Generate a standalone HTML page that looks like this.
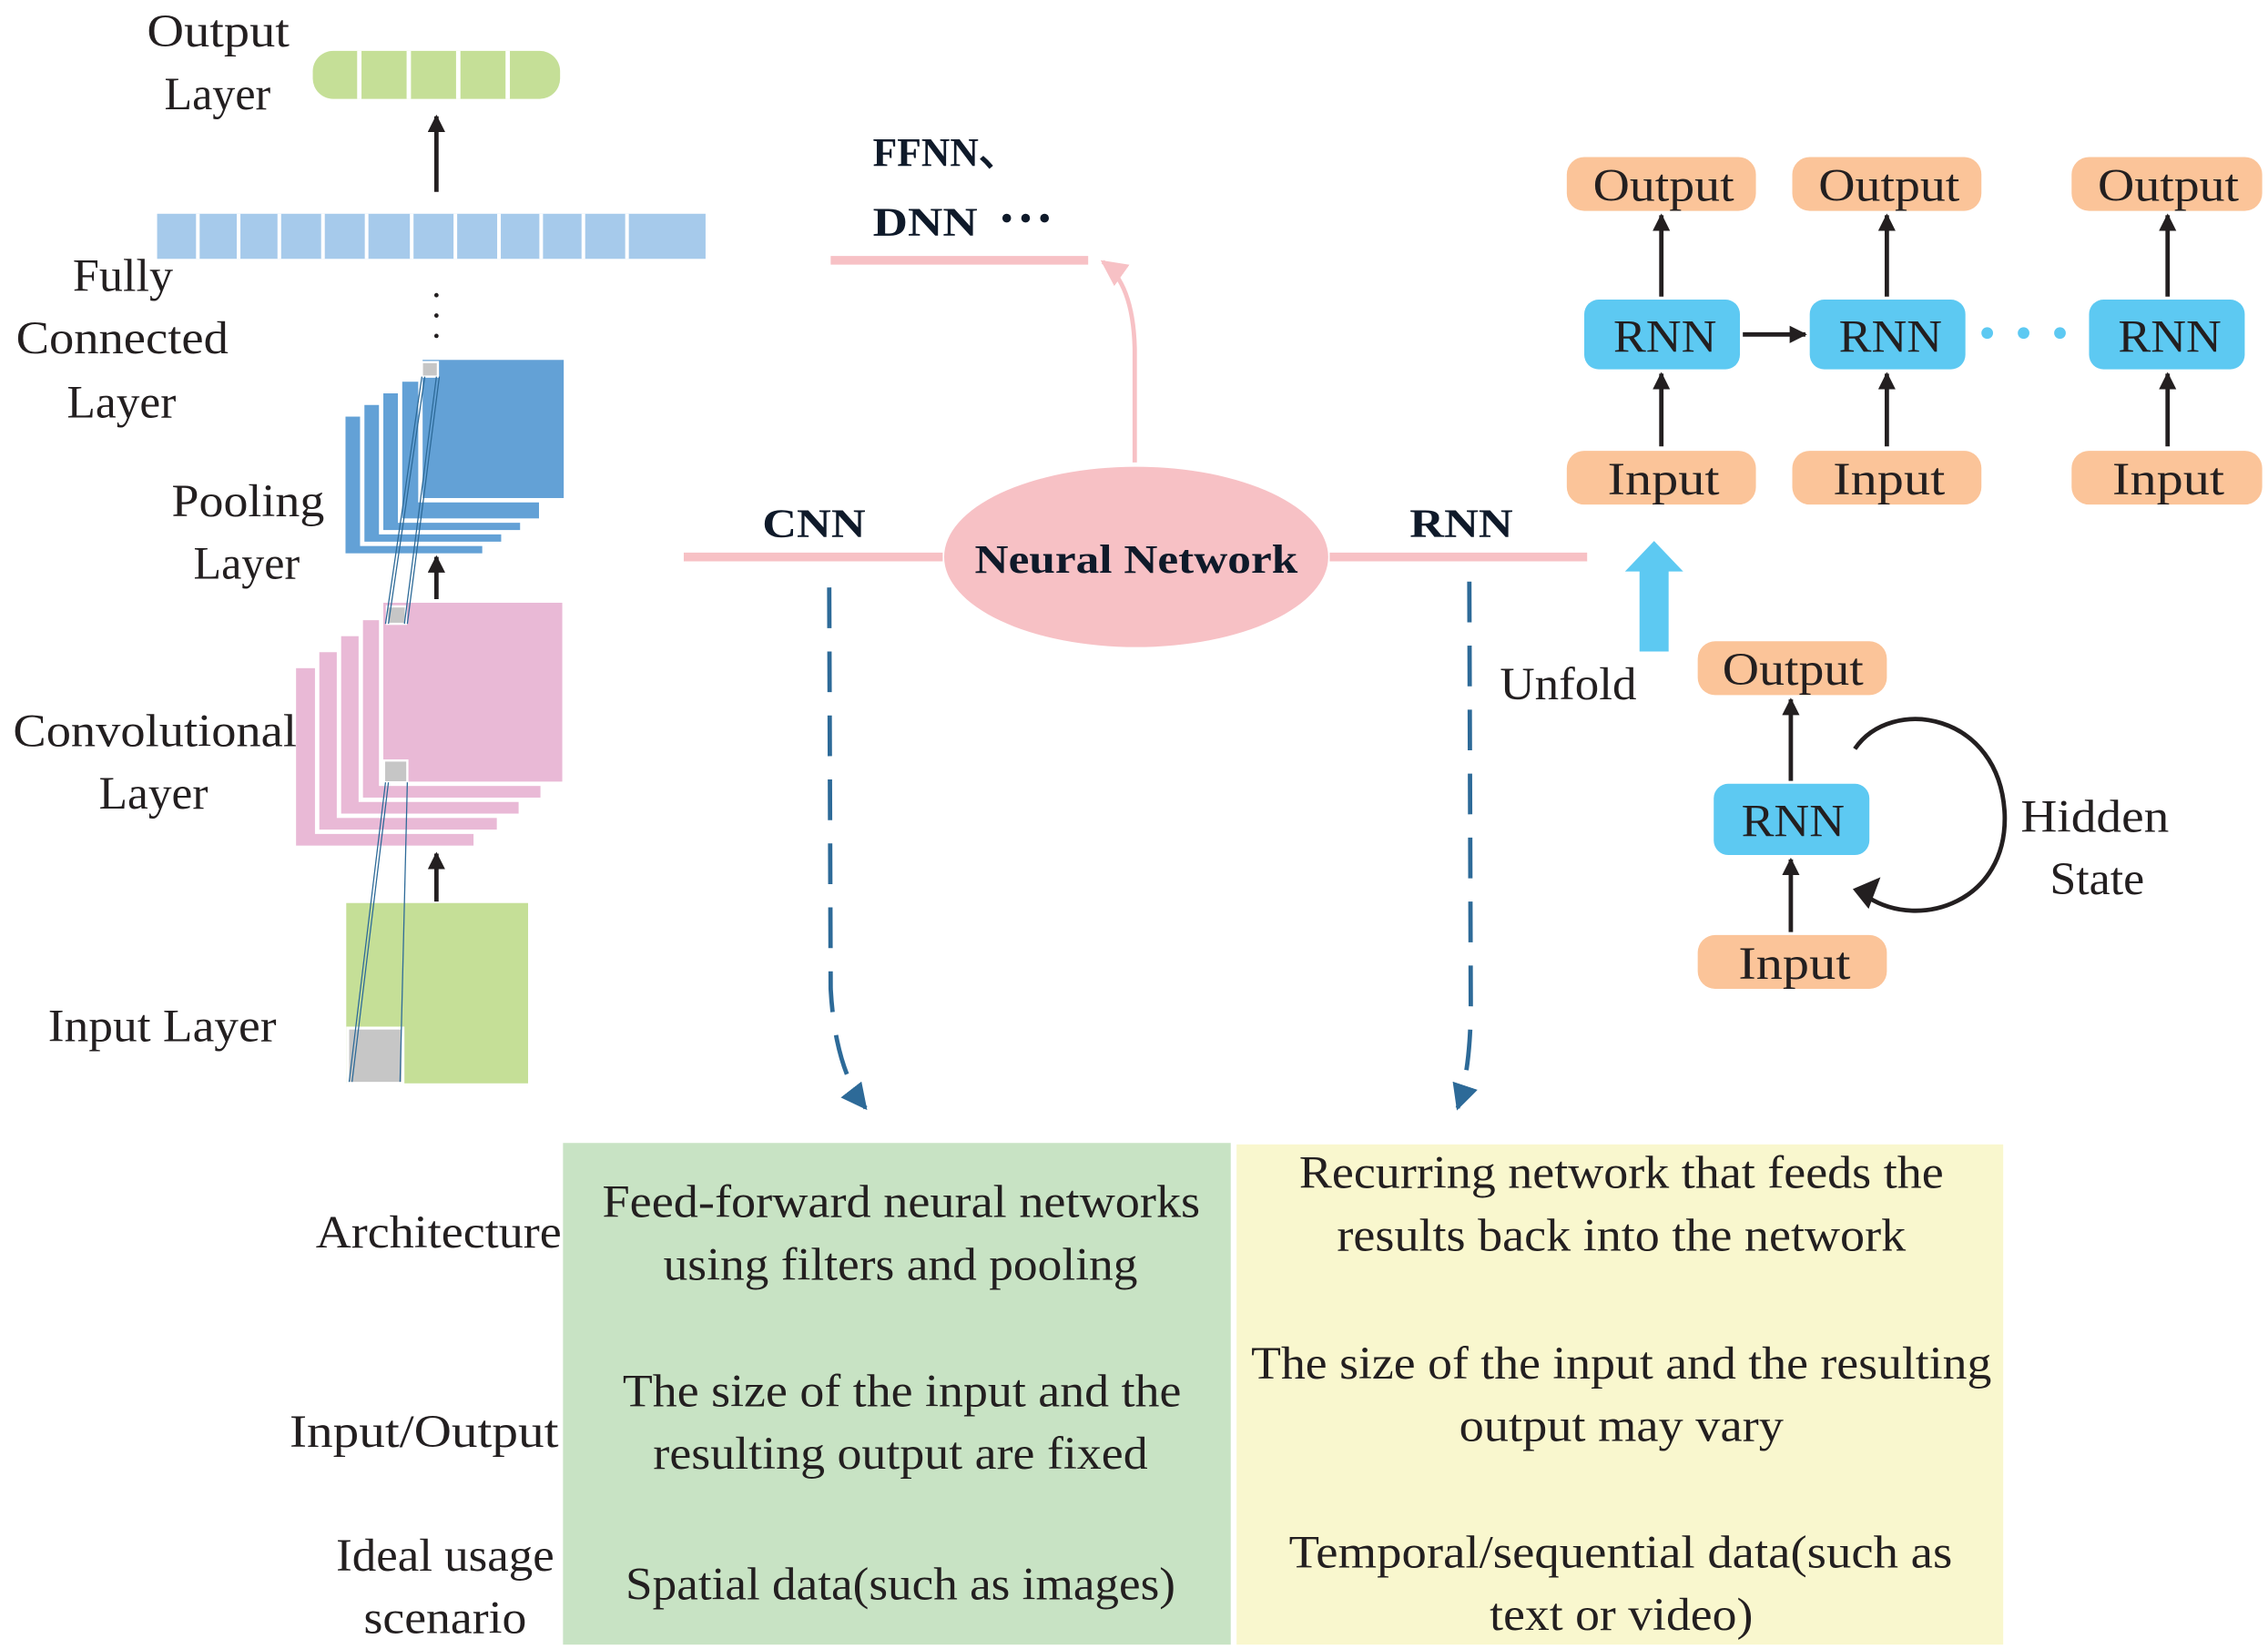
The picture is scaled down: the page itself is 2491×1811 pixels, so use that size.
<!DOCTYPE html>
<html><head><meta charset="utf-8"><style>html,body{margin:0;padding:0;background:#fff}svg{display:block}</style></head>
<body>
<svg xmlns="http://www.w3.org/2000/svg" width="2491" height="1811" viewBox="0 0 1559 1134" preserveAspectRatio="none">
<defs>
<marker id="ah" viewBox="0 0 10 10" refX="9" refY="5" markerWidth="4" markerHeight="4" orient="auto"><path d="M0,0 L10,5 L0,10 z" fill="#231f20"/></marker>
<marker id="ap" viewBox="0 0 10 10" refX="9" refY="5" markerWidth="6" markerHeight="6" orient="auto"><path d="M0,0 L10,5 L0,10 z" fill="#f7c1c5"/></marker>
<marker id="ab" viewBox="0 0 10 10" refX="9" refY="5" markerWidth="6" markerHeight="6" orient="auto"><path d="M0,0 L10,5 L0,10 z" fill="#2d6a98"/></marker>
</defs>
<g font-family="'Liberation Serif', serif" fill="#231f20" font-size="32" lengthAdjust="spacingAndGlyphs">
<!-- left CNN stack -->
<rect x="215" y="35" width="170" height="33" rx="14" fill="#c5df97"/>
<g stroke="#fff" stroke-width="3"><line x1="247" y1="35" x2="247" y2="68"/><line x1="281" y1="35" x2="281" y2="68"/><line x1="315" y1="35" x2="315" y2="68"/><line x1="349" y1="35" x2="349" y2="68"/></g>
<line x1="300" y1="132" x2="300" y2="80" stroke="#231f20" stroke-width="3" marker-end="url(#ah)"/>
<rect x="108" y="147" width="377" height="31" fill="#a6caeb"/>
<g stroke="#fff" stroke-width="2.5"><line x1="136" y1="147" x2="136" y2="178"/><line x1="164" y1="147" x2="164" y2="178"/><line x1="192" y1="147" x2="192" y2="178"/><line x1="222" y1="147" x2="222" y2="178"/><line x1="252" y1="147" x2="252" y2="178"/><line x1="283" y1="147" x2="283" y2="178"/><line x1="313" y1="147" x2="313" y2="178"/><line x1="343" y1="147" x2="343" y2="178"/><line x1="372" y1="147" x2="372" y2="178"/><line x1="401" y1="147" x2="401" y2="178"/><line x1="431" y1="147" x2="431" y2="178"/></g>
<circle cx="300" cy="203" r="1.5"/><circle cx="300" cy="217" r="1.5"/><circle cx="300" cy="231" r="1.5"/>
<!-- pooling -->
<g fill="#63a1d6" stroke="#fff" stroke-width="3">
<rect x="236" y="285" width="97" height="97"/>
<rect x="249" y="277" width="97" height="97"/>
<rect x="262" y="269" width="97" height="97"/>
<rect x="275" y="261" width="97" height="97"/>
<rect x="289" y="246" width="100" height="98"/>
</g>
<!-- conv -->
<g fill="#e9b9d6" stroke="#fff" stroke-width="3">
<rect x="202" y="458" width="125" height="125"/>
<rect x="218" y="447" width="125" height="125"/>
<rect x="233" y="436" width="125" height="125"/>
<rect x="248" y="425" width="125" height="125"/>
<rect x="262" y="413" width="126" height="126"/>
</g>
<!-- input -->
<rect x="238" y="621" width="125" height="124" fill="#c5df97"/>
<rect x="239" y="707" width="38" height="38" fill="#c6c6c6" stroke="#fff" stroke-width="2"/>
<rect x="264" y="523" width="16" height="15" fill="#c6c6c6" stroke="#fff" stroke-width="1.5"/>
<rect x="266" y="417" width="13" height="12" fill="#c6c6c6" stroke="#fff" stroke-width="1.5"/>
<rect x="290" y="249" width="11" height="10" fill="#c6c6c6" stroke="#fff" stroke-width="1.5"/>
<g stroke="#2d6a98" stroke-width="0.8" fill="none">
<line x1="240" y1="744" x2="265" y2="538"/><line x1="242" y1="744" x2="267" y2="538"/>
<line x1="275" y1="744" x2="280" y2="538"/>
<line x1="265" y1="429" x2="290" y2="259"/><line x1="267" y1="429" x2="292" y2="259"/>
<line x1="278" y1="429" x2="300" y2="259"/><line x1="280" y1="429" x2="302" y2="259"/>
</g>
<line x1="300" y1="620" x2="300" y2="587" stroke="#231f20" stroke-width="3" marker-end="url(#ah)"/>
<line x1="300" y1="412" x2="300" y2="383" stroke="#231f20" stroke-width="3" marker-end="url(#ah)"/>
<text x="101" y="32" textLength="98" lengthAdjust="spacingAndGlyphs">Output</text>
<text x="113" y="75" textLength="73" lengthAdjust="spacingAndGlyphs">Layer</text>
<text x="50" y="200" textLength="69" lengthAdjust="spacingAndGlyphs">Fully</text>
<text x="11" y="243" textLength="146" lengthAdjust="spacingAndGlyphs">Connected</text>
<text x="46" y="287" textLength="75" lengthAdjust="spacingAndGlyphs">Layer</text>
<text x="118" y="355" textLength="105" lengthAdjust="spacingAndGlyphs">Pooling</text>
<text x="133" y="398" textLength="73" lengthAdjust="spacingAndGlyphs">Layer</text>
<text x="9" y="513" textLength="195" lengthAdjust="spacingAndGlyphs">Convolutional</text>
<text x="68" y="556" textLength="75" lengthAdjust="spacingAndGlyphs">Layer</text>
<text x="33" y="716" textLength="157" lengthAdjust="spacingAndGlyphs">Input Layer</text>
<!-- center -->
<line x1="470" y1="383" x2="648" y2="383" stroke="#f7c1c5" stroke-width="6"/>
<line x1="914" y1="383" x2="1091" y2="383" stroke="#f7c1c5" stroke-width="6"/>
<line x1="571" y1="179" x2="748" y2="179" stroke="#f7c1c5" stroke-width="6"/>
<ellipse cx="781" cy="383" rx="132" ry="62" fill="#f7c1c5"/>
<path d="M780,318 L780,240 Q779,195 758,180" stroke="#f7c1c5" stroke-width="3" fill="none" marker-end="url(#ap)"/>
<g font-weight="bold" fill="#0f1a2a" font-size="28">
<text x="670" y="394" textLength="222" lengthAdjust="spacingAndGlyphs">Neural Network</text>
<text x="524" y="369" textLength="71" lengthAdjust="spacingAndGlyphs">CNN</text>
<text x="969" y="369" textLength="71" lengthAdjust="spacingAndGlyphs">RNN</text>
<text x="600" y="114" textLength="100" lengthAdjust="spacingAndGlyphs">FFNN、</text>
<text x="600" y="162" textLength="72" lengthAdjust="spacingAndGlyphs">DNN</text>
</g>
<circle cx="692" cy="150" r="3" fill="#0f1a2a"/><circle cx="705" cy="150" r="3" fill="#0f1a2a"/><circle cx="718" cy="150" r="3" fill="#0f1a2a"/>
<path d="M570,404 L571,680 Q574,735 595,762" stroke="#2d6a98" stroke-width="3" fill="none" stroke-dasharray="28,16" marker-end="url(#ab)"/>
<path d="M1010,400 L1011,690 Q1011,735 1002,762" stroke="#2d6a98" stroke-width="3" fill="none" stroke-dasharray="28,16" marker-end="url(#ab)"/>
<!-- unrolled RNN -->
<g fill="#fbc499">
<rect x="1077" y="108" width="130" height="37" rx="12"/><rect x="1232" y="108" width="130" height="37" rx="12"/><rect x="1424" y="108" width="131" height="37" rx="12"/>
<rect x="1077" y="310" width="130" height="37" rx="12"/><rect x="1232" y="310" width="130" height="37" rx="12"/><rect x="1424" y="310" width="131" height="37" rx="12"/>
<rect x="1167" y="441" width="130" height="37" rx="12"/><rect x="1167" y="643" width="130" height="37" rx="12"/>
</g>
<g fill="#5dc9f2">
<rect x="1089" y="206" width="107" height="48" rx="10"/><rect x="1244" y="206" width="107" height="48" rx="10"/><rect x="1436" y="206" width="107" height="48" rx="10"/>
<rect x="1178" y="539" width="107" height="49" rx="10"/>
</g>
<g stroke="#231f20" stroke-width="3" marker-end="url(#ah)">
<line x1="1142" y1="204" x2="1142" y2="148"/><line x1="1297" y1="204" x2="1297" y2="148"/><line x1="1490" y1="204" x2="1490" y2="148"/>
<line x1="1142" y1="307" x2="1142" y2="257"/><line x1="1297" y1="307" x2="1297" y2="257"/><line x1="1490" y1="307" x2="1490" y2="257"/>
<line x1="1198" y1="230" x2="1241" y2="230"/>
<line x1="1231" y1="537" x2="1231" y2="481"/><line x1="1231" y1="641" x2="1231" y2="591"/>
</g>
<circle cx="1366" cy="229" r="4" fill="#5dc9f2"/><circle cx="1391" cy="229" r="4" fill="#5dc9f2"/><circle cx="1416" cy="229" r="4" fill="#5dc9f2"/>
<path d="M1127,448 L1127,393 L1117,393 L1137,372 L1157,393 L1147,393 L1147,448 z" fill="#5dc9f2"/>
<path d="M1275,515 C1300,478 1375,490 1378,560 C1380,620 1320,640 1284,617" stroke="#231f20" stroke-width="3" fill="none"/>
<path d="M1276,612 L1290,606 L1284,622 z" fill="#231f20" stroke="#231f20" stroke-width="3"/>
<g font-size="32">
<text x="1095" y="138" textLength="97" lengthAdjust="spacingAndGlyphs">Output</text>
<text x="1250" y="138" textLength="97" lengthAdjust="spacingAndGlyphs">Output</text>
<text x="1442" y="138" textLength="97" lengthAdjust="spacingAndGlyphs">Output</text>
<text x="1105" y="340" textLength="77" lengthAdjust="spacingAndGlyphs">Input</text>
<text x="1260" y="340" textLength="77" lengthAdjust="spacingAndGlyphs">Input</text>
<text x="1452" y="340" textLength="77" lengthAdjust="spacingAndGlyphs">Input</text>
<text x="1109" y="242" textLength="71" lengthAdjust="spacingAndGlyphs">RNN</text>
<text x="1264" y="242" textLength="71" lengthAdjust="spacingAndGlyphs">RNN</text>
<text x="1456" y="242" textLength="71" lengthAdjust="spacingAndGlyphs">RNN</text>
<text x="1184" y="471" textLength="97" lengthAdjust="spacingAndGlyphs">Output</text>
<text x="1197" y="575" textLength="71" lengthAdjust="spacingAndGlyphs">RNN</text>
<text x="1195" y="673" textLength="77" lengthAdjust="spacingAndGlyphs">Input</text>
<text x="1031" y="481" textLength="94" lengthAdjust="spacingAndGlyphs">Unfold</text>
<text x="1389" y="572" textLength="102" lengthAdjust="spacingAndGlyphs">Hidden</text>
<text x="1409" y="615" textLength="65" lengthAdjust="spacingAndGlyphs">State</text>
</g>
<!-- table -->
<rect x="387" y="786" width="459" height="345" fill="#c8e3c4"/>
<rect x="850" y="787" width="527" height="344" fill="#f9f7ce"/>
<g font-size="32">
<text x="217" y="858" textLength="169" lengthAdjust="spacingAndGlyphs">Architecture</text>
<text x="199" y="995" textLength="185" lengthAdjust="spacingAndGlyphs">Input/Output</text>
<text x="231" y="1080" textLength="150" lengthAdjust="spacingAndGlyphs">Ideal usage</text>
<text x="250" y="1123" textLength="112" lengthAdjust="spacingAndGlyphs">scenario</text>
<text x="414" y="837" textLength="411" lengthAdjust="spacingAndGlyphs">Feed-forward neural networks</text>
<text x="456" y="880" textLength="326" lengthAdjust="spacingAndGlyphs">using filters and pooling</text>
<text x="428" y="967" textLength="384" lengthAdjust="spacingAndGlyphs">The size of the input and the</text>
<text x="449" y="1010" textLength="340" lengthAdjust="spacingAndGlyphs">resulting output are fixed</text>
<text x="430" y="1100" textLength="378" lengthAdjust="spacingAndGlyphs">Spatial data(such as images)</text>
<text x="893" y="817" textLength="443" lengthAdjust="spacingAndGlyphs">Recurring network that feeds the</text>
<text x="919" y="860" textLength="391" lengthAdjust="spacingAndGlyphs">results back into the network</text>
<text x="860" y="948" textLength="509" lengthAdjust="spacingAndGlyphs">The size of the input and the resulting</text>
<text x="1003" y="991" textLength="223" lengthAdjust="spacingAndGlyphs">output may vary</text>
<text x="886" y="1078" textLength="456" lengthAdjust="spacingAndGlyphs">Temporal/sequential data(such as</text>
<text x="1024" y="1121" textLength="181" lengthAdjust="spacingAndGlyphs">text or video)</text>
</g>
</g>
</svg>
</body></html>
